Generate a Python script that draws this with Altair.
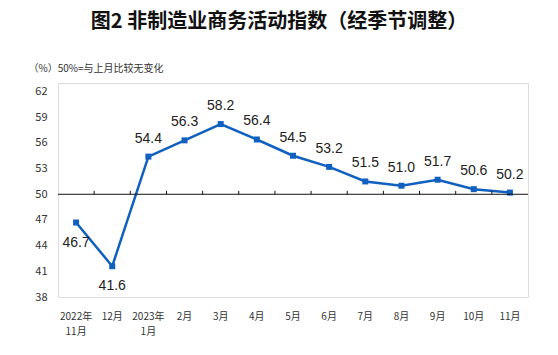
import altair as alt
import pandas as pd

months = ["2022年\n11月", "12月", "2023年\n1月", "2月", "3月", "4月", "5月",
          "6月", "7月", "8月", "9月", "10月", "11月"]
values = [46.7, 41.6, 54.4, 56.3, 58.2, 56.4, 54.5, 53.2, 51.5, 51.0, 51.7, 50.6, 50.2]
y_ticks = [38, 41, 44, 47, 50, 53, 56, 59, 62]

df = pd.DataFrame({"month": months, "value": values})
df["label"] = df["value"].map(lambda v: f"{v:.1f}")
tick_df = pd.DataFrame({"month": months[1:], "value": [50] * 12, "y2": [50.4] * 12})
ref_df = pd.DataFrame({"value": [50]})

BLUE = "#1060c0"
x_scale = alt.Scale(paddingInner=0, paddingOuter=0)
x_axis = alt.Axis(labelExpr="split(datum.value, '\\n')", labelAngle=0,
                  labelFont="Noto Sans CJK SC", labelFontSize=10,
                  labelColor="#333", labelPadding=14, labelLineHeight=15,
                  labelOverlap=False,
                  ticks=False, domain=False, title=None)
x_enc = alt.X("month:N", sort=months, scale=x_scale, axis=x_axis)
y_scale = alt.Scale(domain=[38, 63], nice=False, zero=False)
y_axis = alt.Axis(values=y_ticks, grid=False, ticks=False, domain=False,
                  labelFont="Noto Sans CJK SC", labelFontSize=11,
                  labelColor="#333", labelPadding=11, labelOverlap=False,
                  labelFlush=False,
                  title="（%）50%=与上月比较无变化", titleAngle=0,
                  titleAlign="left", titleBaseline="middle",
                  titleX=-30, titleY=-15, titleFont="Noto Sans CJK SC",
                  titleFontSize=10, titleFontWeight="normal",
                  titleColor="#333")
y_enc = alt.Y("value:Q", scale=y_scale, axis=y_axis)

base = alt.Chart(df)

line = base.mark_line(color=BLUE, strokeWidth=2.5).encode(x=x_enc, y=y_enc)
pts = base.mark_square(color=BLUE, size=36, opacity=1).encode(x=x_enc, y=y_enc)

above = base.transform_filter("datum.value >= 50").mark_text(
    font="Liberation Sans", fontSize=14, color="#222", dy=-18, baseline="middle"
).encode(x=x_enc, y=y_enc, text="label:N")
below = base.transform_filter("datum.value < 50").mark_text(
    font="Liberation Sans", fontSize=14, color="#222", dy=20, baseline="middle"
).encode(x=x_enc, y=y_enc, text="label:N")

ref = alt.Chart(ref_df).mark_rule(color="#111", strokeWidth=1).encode(y=y_enc)
ticks = alt.Chart(tick_df).mark_rule(color="#111", strokeWidth=1).encode(
    x=alt.X("month:N", sort=months, bandPosition=0, scale=x_scale, axis=x_axis),
    y=y_enc, y2="y2:Q")

chart = alt.layer(line, pts, above, below, ref, ticks).properties(
    width=470, height=214,
    autosize=alt.AutoSizeParams(type="none"),
    padding={"left": 58, "top": 83, "right": 30, "bottom": 58},
    title=alt.Title("图2  非制造业商务活动指数（经季节调整）", font="Noto Sans CJK SC",
                    fontSize=20, fontWeight="bold", color="#111", anchor="middle",
                    frame="group", dx=-14, offset=31),
).configure_view(stroke="#333", strokeWidth=1).configure(background="white")

chart.save("out.html", embed_options={"renderer": "svg", "actions": False})
